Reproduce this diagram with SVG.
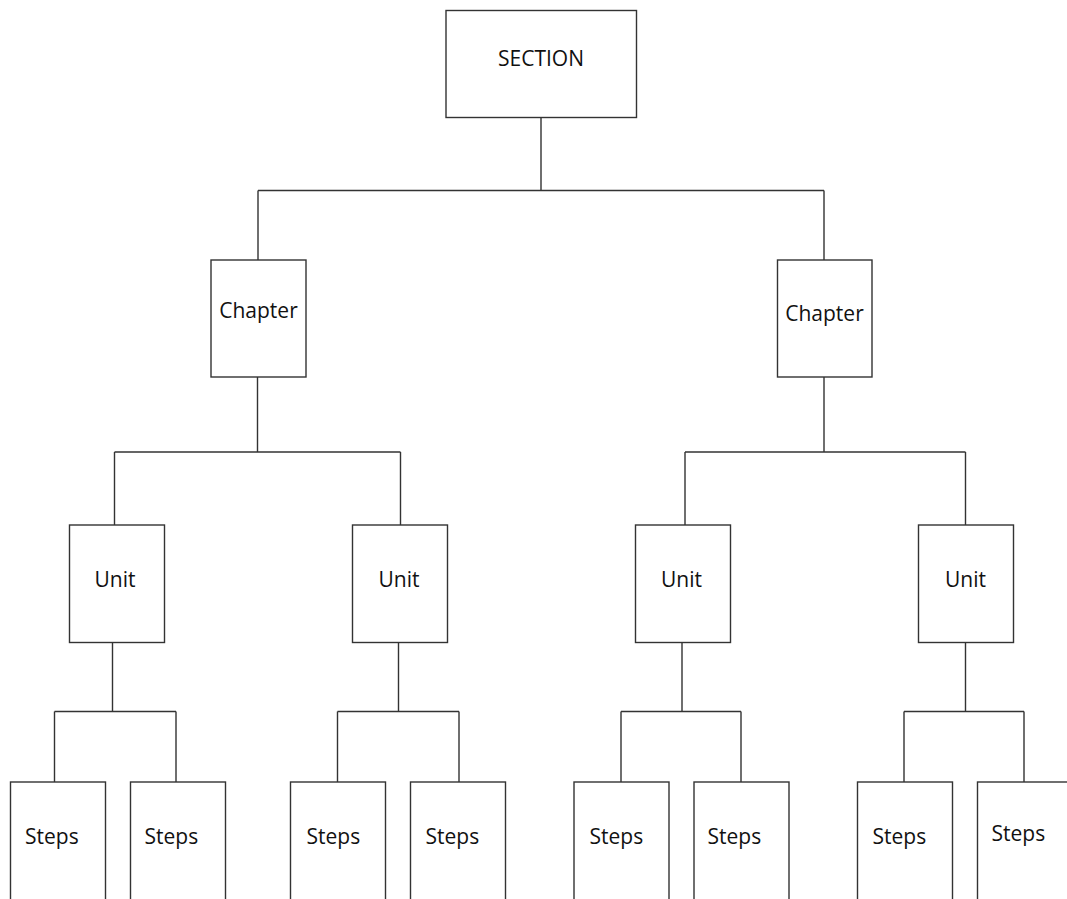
<svg xmlns="http://www.w3.org/2000/svg" width="1067" height="899" viewBox="0 0 1067 899">
<style>
.box{fill:#fff;stroke:#333;stroke-width:1.4}
.lbl{font-family:"Open Sans","Liberation Sans",sans-serif;font-size:21px;fill:#111}
.c{text-anchor:middle}
#connectors path{fill:none;stroke:#333;stroke-width:1.4}
</style>
<rect width="1067" height="899" fill="#fff"/>
<g id="connectors">
<path d="M541 117.5V190.5M258 190.5H824M258 190.5V260M824 190.5V260"/>
<path d="M257.5 377V452M114.5 452H400.5M114.5 452V525M400.5 452V525"/>
<path d="M824 377V452M685 452H965.5M685 452V525M965.5 452V525"/>
<path d="M112.5 642.5V711.5M54.5 711.5H176M54.5 711.5V782M176 711.5V782"/>
<path d="M398.5 642.5V711.5M337.5 711.5H459M337.5 711.5V782M459 711.5V782"/>
<path d="M682 642.5V711.5M621 711.5H741M621 711.5V782M741 711.5V782"/>
<path d="M965.5 642.5V711.5M904 711.5H1024M904 711.5V782M1024 711.5V782"/>
</g>
<g id="section"><rect class="box" x="446" y="10.5" width="190.5" height="107"/><text class="lbl c" x="541" y="65.5">SECTION</text></g>
<g id="chapter1"><rect class="box" x="211" y="260" width="95" height="117"/><text class="lbl c" x="258.5" y="318">Chapter</text></g>
<g id="chapter2"><rect class="box" x="777.5" y="260" width="94.5" height="117"/><text class="lbl c" x="824.5" y="320.5">Chapter</text></g>
<g id="unit1"><rect class="box" x="69.5" y="525" width="95" height="117.5"/><text class="lbl c" x="115" y="586.5">Unit</text></g>
<g id="unit2"><rect class="box" x="352.5" y="525" width="95" height="117.5"/><text class="lbl c" x="399" y="586.5">Unit</text></g>
<g id="unit3"><rect class="box" x="635.5" y="525" width="95" height="117.5"/><text class="lbl c" x="681.5" y="586.5">Unit</text></g>
<g id="unit4"><rect class="box" x="918.5" y="525" width="95" height="117.5"/><text class="lbl c" x="965.5" y="586.5">Unit</text></g>
<g id="steps1"><rect class="box" x="10.5" y="782" width="95" height="140"/><text class="lbl" x="25" y="844">Steps</text></g>
<g id="steps2"><rect class="box" x="130.5" y="782" width="95" height="140"/><text class="lbl" x="144.5" y="844">Steps</text></g>
<g id="steps3"><rect class="box" x="290.5" y="782" width="95" height="140"/><text class="lbl" x="306.5" y="844">Steps</text></g>
<g id="steps4"><rect class="box" x="410.5" y="782" width="95" height="140"/><text class="lbl" x="425.5" y="844">Steps</text></g>
<g id="steps5"><rect class="box" x="574" y="782" width="95" height="140"/><text class="lbl" x="589.5" y="844">Steps</text></g>
<g id="steps6"><rect class="box" x="694" y="782" width="95" height="140"/><text class="lbl" x="707.5" y="844">Steps</text></g>
<g id="steps7"><rect class="box" x="857.5" y="782" width="95" height="140"/><text class="lbl" x="872.5" y="844">Steps</text></g>
<g id="steps8"><rect class="box" x="977.5" y="782" width="95" height="140"/><text class="lbl" x="991.5" y="840.5">Steps</text></g>
</svg>
